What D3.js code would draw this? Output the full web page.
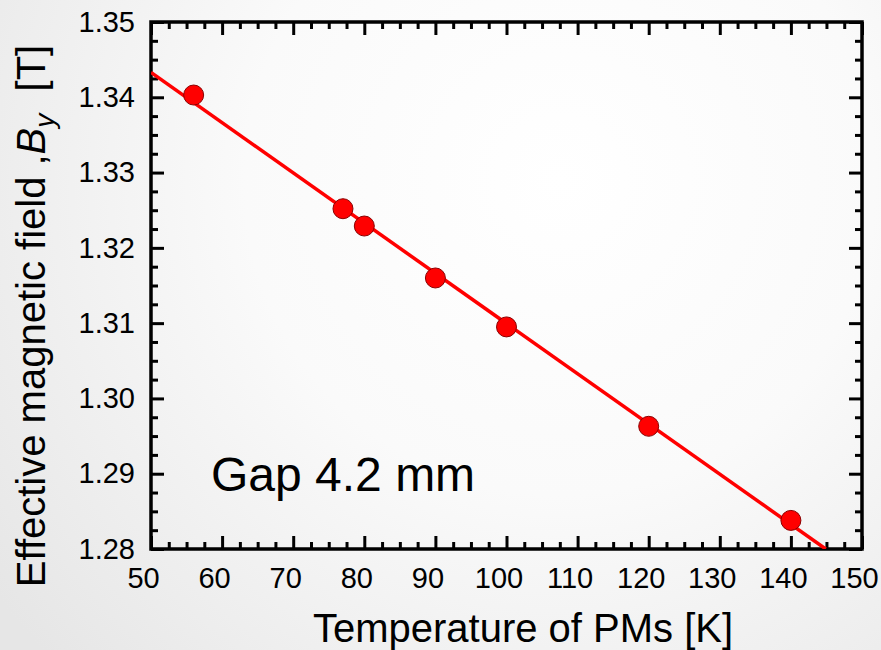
<!DOCTYPE html>
<html><head><meta charset="utf-8">
<script src="https://cdn.jsdelivr.net/npm/d3@7"></script>
<style>
html,body{margin:0;padding:0;}
svg{display:block;font-family:"Liberation Sans",Arial,sans-serif;}
</style></head>
<body>
<script>
// ---- data ----
const temperatures = [56.0, 77.0, 80.0, 90.0, 100.0, 120.0, 140.0];
const fieldBy      = [1.3403, 1.3252, 1.3229, 1.3160, 1.3095, 1.2963, 1.2838];
const fitT = [50, 144.9];
const fitB = [1.3433, 1.28];
const xTicks = [50, 60, 70, 80, 90, 100, 110, 120, 130, 140, 150];
const yTicks = [1.28, 1.29, 1.30, 1.31, 1.32, 1.33, 1.34, 1.35];
const xLabel = "Temperature of PMs [K]";
const annotation = "Gap 4.2 mm";

const W = 881, H = 650;
const L = 151, R = 862, T = 22, B = 549;

const svg = d3.select("body").append("svg").attr("width", W).attr("height", H);
const defs = svg.append("defs");
const grad = defs.append("radialGradient").attr("id", "bg")
  .attr("gradientUnits", "userSpaceOnUse").attr("cx", 560).attr("cy", 180).attr("r", 700);
grad.append("stop").attr("offset", "0%").attr("stop-color", "#ffffff");
grad.append("stop").attr("offset", "45%").attr("stop-color", "#fafafa");
grad.append("stop").attr("offset", "100%").attr("stop-color", "#e6e6e6");
svg.append("rect").attr("width", W).attr("height", H).attr("fill", "url(#bg)");

const x = d3.scaleLinear().domain([50, 150]).range([L, R]);
const y = d3.scaleLinear().domain([1.28, 1.35]).range([B, T]);

defs.append("clipPath").attr("id", "clip").append("rect")
  .attr("x", L).attr("y", T).attr("width", R - L).attr("height", B - T);

const xMinor = d3.range(50, 150.01, 2.5).filter(v => Math.abs(v % 10) > 1e-6);
const yMinor = d3.range(0, 29).map(i => 1.28 + i * 0.0025).filter((v, i) => i % 4 !== 0);

function styleAxis(g) {
  g.select(".domain").remove();
  g.selectAll(".tick line").attr("stroke", "#000").attr("stroke-width", 3);
  g.selectAll(".tick text").attr("fill", "#000").attr("font-size", 29)
    .attr("font-family", "Liberation Sans, Arial, sans-serif");
}

// bottom
svg.append("g").attr("transform", `translate(0,${B})`)
  .call(d3.axisBottom(x).tickValues(xTicks).tickFormat(d3.format("d")).tickSize(-13).tickPadding(18))
  .call(styleAxis)
  .call(g => g.selectAll(".tick text").attr("dx", -8));
svg.append("g").attr("transform", `translate(0,${B})`)
  .call(d3.axisBottom(x).tickValues(xMinor).tickFormat("").tickSize(-7)).call(styleAxis);
// top
svg.append("g").attr("transform", `translate(0,${T})`)
  .call(d3.axisTop(x).tickValues(xTicks).tickFormat("").tickSize(-13)).call(styleAxis);
svg.append("g").attr("transform", `translate(0,${T})`)
  .call(d3.axisTop(x).tickValues(xMinor).tickFormat("").tickSize(-7)).call(styleAxis);
// left
svg.append("g").attr("transform", `translate(${L},0)`)
  .call(d3.axisLeft(y).tickValues(yTicks).tickFormat(d3.format(".2f")).tickSize(-13).tickPadding(16))
  .call(styleAxis);
svg.append("g").attr("transform", `translate(${L},0)`)
  .call(d3.axisLeft(y).tickValues(yMinor).tickFormat("").tickSize(-7)).call(styleAxis);
// right
svg.append("g").attr("transform", `translate(${R},0)`)
  .call(d3.axisRight(y).tickValues(yTicks).tickFormat("").tickSize(-13)).call(styleAxis);
svg.append("g").attr("transform", `translate(${R},0)`)
  .call(d3.axisRight(y).tickValues(yMinor).tickFormat("").tickSize(-7)).call(styleAxis);

// frame
svg.append("rect").attr("x", L).attr("y", T).attr("width", R - L).attr("height", B - T)
  .attr("fill", "none").attr("stroke", "#000").attr("stroke-width", 3.5);

// fit line
svg.append("path").attr("clip-path", "url(#clip)")
  .datum(fitT.map((t, i) => [t, fitB[i]]))
  .attr("d", d3.line().x(d => x(d[0])).y(d => y(d[1])))
  .attr("fill", "none").attr("stroke", "#ff0000").attr("stroke-width", 3.5);

// points
svg.append("g").selectAll("circle").data(temperatures.map((t, i) => [t, fieldBy[i]]))
  .join("circle").attr("cx", d => x(d[0])).attr("cy", d => y(d[1])).attr("r", 10)
  .attr("fill", "#ff0000").attr("stroke", "#8a0000").attr("stroke-width", 1);

// annotation
svg.append("text").attr("x", 211).attr("y", 491).attr("font-size", 48).attr("fill", "#000")
  .text(annotation);

// x label
svg.append("text").attr("x", 523).attr("y", 642).attr("text-anchor", "middle")
  .attr("font-size", 40).attr("fill", "#000").text(xLabel);

// y label
const yl = svg.append("text").attr("transform", "translate(45,316) rotate(-90)")
  .attr("text-anchor", "middle").attr("font-size", 40).attr("fill", "#000");
yl.append("tspan").text("Effective magnetic field ,");
yl.append("tspan").attr("font-style", "italic").text("B");
yl.append("tspan").attr("font-style", "italic").attr("font-size", 28).attr("dy", 9).text("y");
yl.append("tspan").attr("dy", -9).text("\u00a0\u00a0[T]");
</script>
</body></html>
